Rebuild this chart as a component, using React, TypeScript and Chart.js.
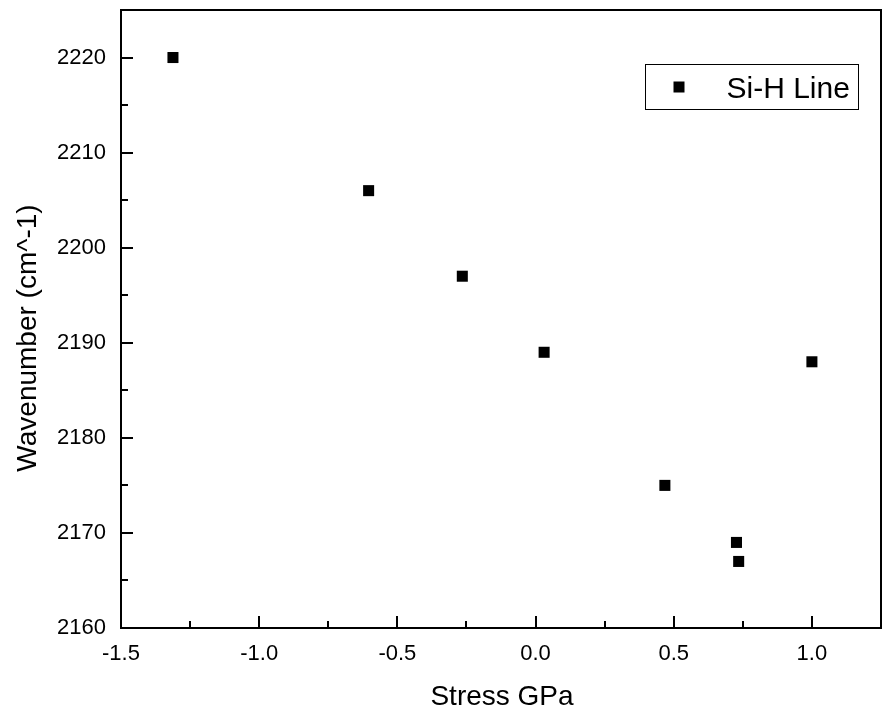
import React, { useEffect, useRef } from "react";
import { Chart, registerables } from "chart.js";

Chart.register(...registerables);

// ---- data ----
const seriesLabel = "Si-H Line";
const stressGPa = [-1.312, -0.604, -0.265, 0.031, 0.468, 0.727, 0.735, 1.0];
const wavenumber = [2220, 2206, 2197, 2189, 2175, 2169, 2167, 2188];
const xTickValues = [-1.5, -1.0, -0.5, 0.0, 0.5, 1.0];
const xMinorValues = [-1.25, -0.75, -0.25, 0.25, 0.75];
const yTickValues = [2160, 2170, 2180, 2190, 2200, 2210, 2220];
const yMinorValues = [2165, 2175, 2185, 2195, 2205, 2215];
const xTitle = "Stress GPa";
const yTitle = "Wavenumber (cm^-1)";

const FONT = "'Liberation Sans', Arial, sans-serif";

const framePlugin = {
  id: "originFrame",
  beforeDatasetsDraw(chart: any) {
    const { ctx, chartArea, scales } = chart;
    const { left, right, top, bottom } = chartArea;
    ctx.save();
    ctx.strokeStyle = "#000";
    ctx.lineWidth = 2;
    ctx.strokeRect(left, top, right - left, bottom - top);
    const x = scales.x;
    const y = scales.y;
    ctx.beginPath();
    xTickValues.forEach((v) => {
      const px = Math.round(x.getPixelForValue(v));
      ctx.moveTo(px, bottom);
      ctx.lineTo(px, bottom - 12);
    });
    xMinorValues.forEach((v) => {
      const px = Math.round(x.getPixelForValue(v));
      ctx.moveTo(px, bottom);
      ctx.lineTo(px, bottom - 7);
    });
    yTickValues.forEach((v) => {
      const py = Math.round(y.getPixelForValue(v));
      ctx.moveTo(left, py);
      ctx.lineTo(left + 12, py);
    });
    yMinorValues.forEach((v) => {
      const py = Math.round(y.getPixelForValue(v));
      ctx.moveTo(left, py);
      ctx.lineTo(left + 7, py);
    });
    ctx.stroke();
    ctx.restore();
  },
  afterDraw(chart: any) {
    const { ctx, chartArea } = chart;
    const { left, right, top, bottom } = chartArea;
    ctx.save();
    ctx.fillStyle = "#000";
    ctx.font = `28px ${FONT}`;
    // x title
    ctx.textAlign = "center";
    ctx.textBaseline = "alphabetic";
    ctx.fillText(xTitle, (left + right) / 2 + 1, bottom + 77);
    // y title
    ctx.save();
    ctx.translate(left - 85, (top + bottom) / 2 + 19);
    ctx.rotate(-Math.PI / 2);
    ctx.fillText(yTitle, 0, 0);
    ctx.restore();
    // legend
    const lx = 645.5;
    const ly = 64.5;
    ctx.lineWidth = 1;
    ctx.strokeStyle = "#000";
    ctx.strokeRect(lx, ly, 213, 45);
    ctx.fillRect(lx + 28, ly + 17, 11, 11);
    ctx.textAlign = "left";
    ctx.font = `30px ${FONT}`;
    ctx.fillText(chart.data.datasets[0].label, lx + 81, ly + 33);
    ctx.restore();
  },
};

export default function App() {
  const ref = useRef<HTMLCanvasElement | null>(null);
  useEffect(() => {
    if (!ref.current) return;
    const chart = new Chart(ref.current, {
      type: "scatter",
      data: {
        datasets: [
          {
            label: seriesLabel,
            data: stressGPa.map((x, i) => ({ x, y: wavenumber[i] })),
            pointStyle: "rect",
            pointRadius: 7.8,
            pointHoverRadius: 7.8,
            borderWidth: 0,
            backgroundColor: "#000",
            borderColor: "#000",
          },
        ],
      },
      options: {
        responsive: false,
        animation: false,
        layout: { autoPadding: false, padding: { top: 10, right: 2, left: 0, bottom: 0 } },
        plugins: { legend: { display: false }, tooltip: { enabled: false } },
        scales: {
          x: {
            type: "linear",
            min: -1.5,
            max: 1.25,
            grid: { display: false, drawTicks: false },
            border: { display: false },
            afterBuildTicks: (s: any) => {
              s.ticks = xTickValues.map((v) => ({ value: v }));
            },
            afterFit: (s: any) => {
              s.height = 86;
              s.paddingLeft = 0;
              s.paddingRight = 0;
            },
            ticks: {
              color: "#000",
              padding: 13,
              font: { family: FONT, size: 22 },
              maxRotation: 0,
              autoSkip: false,
              callback: (v: any) => Number(v).toFixed(1),
            },
          },
          y: {
            type: "linear",
            min: 2160,
            max: 2225,
            grid: { display: false, drawTicks: false },
            border: { display: false },
            afterBuildTicks: (s: any) => {
              s.ticks = yTickValues.map((v) => ({ value: v }));
            },
            afterFit: (s: any) => {
              s.width = 121;
              s.paddingTop = 0;
              s.paddingBottom = 0;
            },
            ticks: {
              color: "#000",
              padding: 15,
              font: { family: FONT, size: 22 },
              autoSkip: false,
              callback: (v: any) => String(v),
            },
          },
        },
      },
      plugins: [framePlugin],
    });
    return () => chart.destroy();
  }, []);
  return (
    <div style={{ position: "absolute", left: 0, top: 0, width: 883, height: 714, background: "#fff" }}>
      <canvas ref={ref} width={883} height={714} />
    </div>
  );
}
